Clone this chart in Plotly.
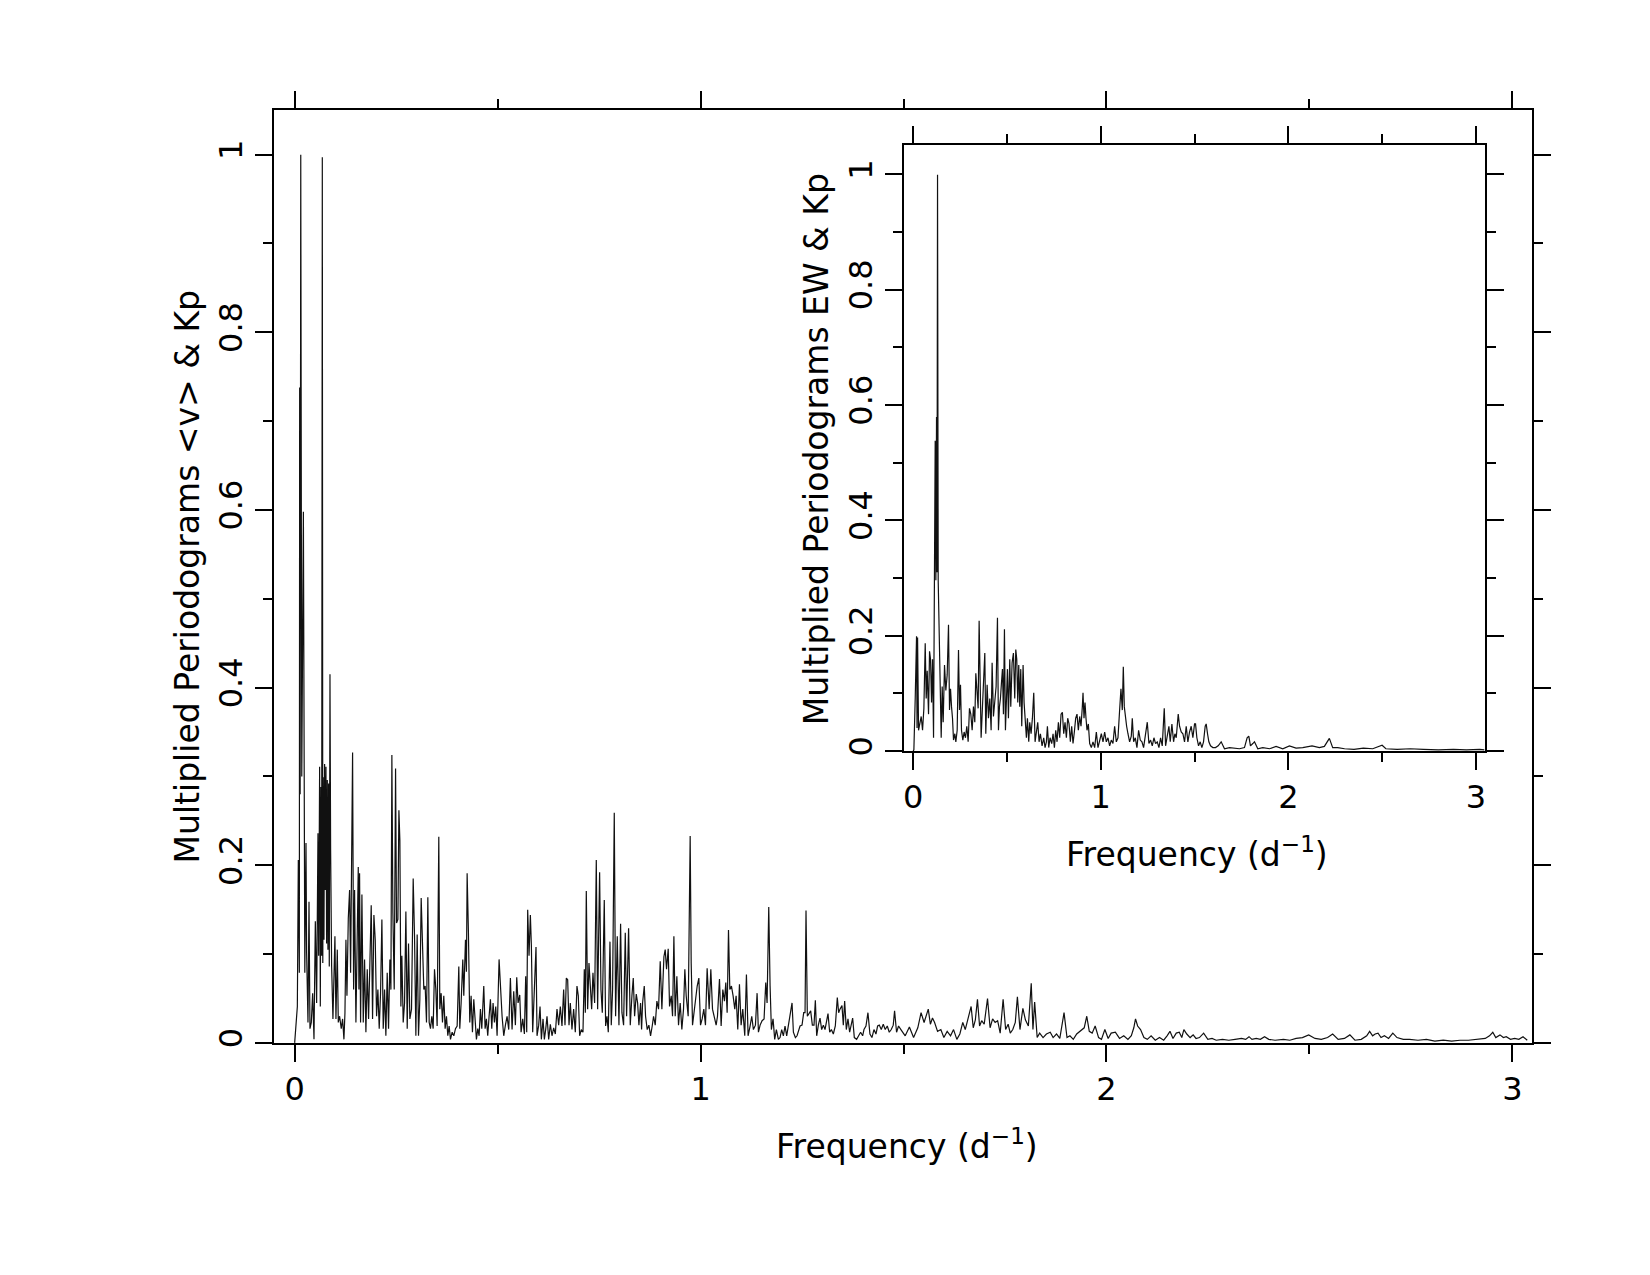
import plotly.graph_objects as go

# ---------------- data ----------------
main_freq = [
    0.0000, 0.0033, 0.0066, 0.0090, 0.0115, 0.0123, 0.0135, 0.0150, 0.0175, 0.0215,
    0.0235, 0.0250, 0.0279, 0.0295, 0.0328, 0.0353, 0.0377, 0.0410, 0.0443, 0.0476,
    0.0509, 0.0541, 0.0574, 0.0591, 0.0615, 0.0632, 0.0648, 0.0664, 0.0681, 0.0693,
    0.0705, 0.0722, 0.0738, 0.0755, 0.0771, 0.0787, 0.0804, 0.0820, 0.0837, 0.0853,
    0.0870, 0.0886, 0.0911, 0.0943, 0.0968, 0.0992, 0.1017, 0.1050, 0.1075, 0.1107,
    0.1148, 0.1181, 0.1214, 0.1239, 0.1263, 0.1288, 0.1321, 0.1353, 0.1378, 0.1394,
    0.1427, 0.1452, 0.1476, 0.1509, 0.1534, 0.1567, 0.1583, 0.1599, 0.1624, 0.1657,
    0.1690, 0.1722, 0.1755, 0.1788, 0.1821, 0.1854, 0.1886, 0.1919, 0.1952, 0.1985,
    0.2018, 0.2050, 0.2083, 0.2116, 0.2149, 0.2182, 0.2215, 0.2247, 0.2280, 0.2313,
    0.2346, 0.2371, 0.2395, 0.2420, 0.2453, 0.2486, 0.2510, 0.2543, 0.2568, 0.2592,
    0.2617, 0.2641, 0.2674, 0.2707, 0.2740, 0.2773, 0.2805, 0.2838, 0.2879, 0.2920,
    0.2953, 0.2986, 0.3018, 0.3051, 0.3084, 0.3117, 0.3150, 0.3182, 0.3215, 0.3248,
    0.3281, 0.3314, 0.3346, 0.3379, 0.3412, 0.3445, 0.3478, 0.3510, 0.3551, 0.3576,
    0.3609, 0.3642, 0.3674, 0.3707, 0.3740, 0.3773, 0.3806, 0.3839, 0.3880, 0.3921,
    0.3962, 0.4003, 0.4044, 0.4068, 0.4101, 0.4142, 0.4167, 0.4208, 0.4232, 0.4249,
    0.4281, 0.4314, 0.4347, 0.4380, 0.4413, 0.4446, 0.4478, 0.4511, 0.4544, 0.4577,
    0.4610, 0.4659, 0.4692, 0.4724, 0.4757, 0.4790, 0.4823, 0.4856, 0.4888, 0.4921,
    0.4954, 0.4987, 0.5036,
    0.5110, 0.5151, 0.5192, 0.5233, 0.5274, 0.5315, 0.5356, 0.5397, 0.5438, 0.5471,
    0.5504, 0.5545, 0.5578, 0.5619, 0.5660, 0.5692, 0.5717, 0.5741, 0.5774, 0.5807,
    0.5832, 0.5864, 0.5905, 0.5946, 0.5971, 0.6012, 0.6045, 0.6078, 0.6119, 0.6152,
    0.6184, 0.6217, 0.6258, 0.6299, 0.6340, 0.6381, 0.6422, 0.6463, 0.6504, 0.6545,
    0.6586, 0.6627, 0.6660, 0.6693, 0.6726, 0.6759, 0.6791, 0.6832, 0.6873, 0.6914,
    0.6955, 0.6988, 0.7021, 0.7062, 0.7103, 0.7136, 0.7161, 0.7185, 0.7218, 0.7251,
    0.7284, 0.7317, 0.7349, 0.7390, 0.7431, 0.7464, 0.7489, 0.7513, 0.7546, 0.7579,
    0.7628, 0.7661, 0.7694, 0.7727, 0.7768, 0.7800, 0.7833, 0.7874, 0.7907, 0.7948,
    0.7989, 0.8030, 0.8063, 0.8104, 0.8145, 0.8178, 0.8227, 0.8268, 0.8309, 0.8342,
    0.8375, 0.8416, 0.8449, 0.8481, 0.8522, 0.8547, 0.8572, 0.8613, 0.8645, 0.8686,
    0.8727, 0.8768, 0.8809, 0.8842, 0.8883, 0.8924, 0.8965, 0.9006, 0.9047, 0.9097,
    0.9129, 0.9162, 0.9203, 0.9236, 0.9277, 0.9310, 0.9343, 0.9375, 0.9416, 0.9457,
    0.9498, 0.9539, 0.9580, 0.9613, 0.9646, 0.9695, 0.9744, 0.9769, 0.9802, 0.9843,
    0.9876, 0.9917, 0.9958, 0.9999, 1.0039, 1.0080, 1.0121, 1.0162, 1.0212, 1.0253,
    1.0294, 1.0343, 1.0384, 1.0417, 1.0466, 1.0507, 1.0548, 1.0589, 1.0622, 1.0655,
    1.0688, 1.0721, 1.0761, 1.0802, 1.0843, 1.0876, 1.0917, 1.0958, 1.0999, 1.1040,
    1.1089, 1.1130, 1.1171, 1.1220, 1.1261, 1.1302, 1.1352, 1.1393, 1.1426, 1.1467,
    1.1516, 1.1565, 1.1606, 1.1639, 1.1680, 1.1713, 1.1745, 1.1786, 1.1827, 1.1868,
    1.1917, 1.1958, 1.1999, 1.2040, 1.2081, 1.2122, 1.2163, 1.2204, 1.2254, 1.2287,
    1.2336, 1.2377, 1.2418, 1.2451, 1.2500, 1.2541, 1.2574, 1.2598, 1.2631, 1.2672,
    1.2713, 1.2754, 1.2795, 1.2828, 1.2861, 1.2902, 1.2943, 1.2984, 1.3025, 1.3066,
    1.3107, 1.3140, 1.3181, 1.3222, 1.3271, 1.3320, 1.3369, 1.3402, 1.3435, 1.3484,
    1.3517, 1.3550, 1.3591, 1.3632, 1.3673, 1.3714, 1.3747, 1.3788, 1.3845, 1.3894,
    1.3943, 1.3993, 1.4026, 1.4075, 1.4124, 1.4173, 1.4222, 1.4272, 1.4321, 1.4362,
    1.4403, 1.4452, 1.4501, 1.4550, 1.4600, 1.4649, 1.4698, 1.4747, 1.4780, 1.4829,
    1.4878,
    1.4936, 1.5042, 1.5145, 1.5248, 1.5352, 1.5433, 1.5507, 1.5559, 1.5610, 1.5662,
    1.5714, 1.5766, 1.5839, 1.5920, 1.5994, 1.6076, 1.6159, 1.6233, 1.6314, 1.6388,
    1.6460, 1.6521, 1.6595, 1.6666, 1.6718, 1.6770, 1.6822, 1.6874, 1.6926, 1.6988,
    1.7070, 1.7133, 1.7195, 1.7257, 1.7319, 1.7382, 1.7454, 1.7516, 1.7578, 1.7630,
    1.7692, 1.7754, 1.7806, 1.7869, 1.7941, 1.8003, 1.8076, 1.8147, 1.8189, 1.8231,
    1.8293, 1.8354, 1.8438, 1.8521, 1.8615, 1.8686, 1.8770, 1.8851, 1.8955, 1.9028,
    1.9100, 1.9183, 1.9267, 1.9338, 1.9390, 1.9452, 1.9515, 1.9577, 1.9648, 1.9722,
    1.9806, 1.9877, 1.9961, 2.0042, 2.0116, 2.0219, 2.0322, 2.0426, 2.0529, 2.0613,
    2.0674, 2.0716, 2.0768, 2.0840, 2.0923, 2.1007, 2.1100, 2.1203, 2.1307, 2.1410,
    2.1493, 2.1565, 2.1639, 2.1720, 2.1794, 2.1856, 2.1907, 2.1979, 2.2062, 2.2136,
    2.2207, 2.2291, 2.2394, 2.2498, 2.2601, 2.2704, 2.2859, 2.3014, 2.3169, 2.3327,
    2.3430, 2.3512, 2.3585, 2.3689, 2.3792, 2.3895, 2.3999, 2.4154, 2.4361, 2.4518,
    2.4673, 2.4828, 2.4983, 2.5138, 2.5293, 2.5448, 2.5573, 2.5709, 2.5864, 2.5997,
    2.6122, 2.6277, 2.6412, 2.6484, 2.6558, 2.6620, 2.6691, 2.6765, 2.6848, 2.6951,
    2.7055, 2.7158, 2.7313, 2.7468, 2.7675, 2.7882, 2.8091, 2.8297, 2.8504, 2.8711,
    2.8918, 2.9073, 2.9230, 2.9333, 2.9437, 2.9518, 2.9592, 2.9695, 2.9779, 2.9850,
    2.9954, 3.0057, 3.0160, 3.0263, 3.0367,
]
main_power = [
    0.000, 0.019, 0.041, 0.206, 0.079, 0.738, 0.280, 1.000, 0.300, 0.598,
    0.150, 0.079, 0.225, 0.101, 0.023, 0.159, 0.016, 0.023, 0.056, 0.004,
    0.137, 0.045, 0.236, 0.098, 0.311, 0.041, 0.288, 0.098, 0.997, 0.090,
    0.299, 0.116, 0.314, 0.172, 0.311, 0.112, 0.296, 0.105, 0.292, 0.086,
    0.415, 0.217, 0.086, 0.027, 0.068, 0.120, 0.027, 0.105, 0.023, 0.030,
    0.016, 0.027, 0.004, 0.034, 0.116, 0.053, 0.140, 0.172, 0.079, 0.187,
    0.327, 0.060, 0.172, 0.023, 0.105, 0.198, 0.060, 0.191, 0.023, 0.167,
    0.023, 0.094, 0.012, 0.083, 0.027, 0.079, 0.155, 0.027, 0.144, 0.116,
    0.030, 0.060, 0.016, 0.056, 0.139, 0.016, 0.060, 0.008, 0.079, 0.016,
    0.094, 0.060, 0.324, 0.146, 0.060, 0.309, 0.135, 0.139, 0.262, 0.228,
    0.041, 0.098, 0.023, 0.045, 0.148, 0.016, 0.112, 0.027, 0.038, 0.185,
    0.120, 0.008, 0.122, 0.008, 0.049, 0.163, 0.116, 0.060, 0.064, 0.023,
    0.164, 0.023, 0.016, 0.030, 0.016, 0.083, 0.060, 0.019, 0.232, 0.038,
    0.056, 0.023, 0.053, 0.016, 0.030, 0.008, 0.019, 0.004, 0.012, 0.008,
    0.016, 0.019, 0.086, 0.016, 0.045, 0.094, 0.053, 0.116, 0.080, 0.191,
    0.124, 0.023, 0.053, 0.012, 0.049, 0.023, 0.004, 0.016, 0.008, 0.038,
    0.016, 0.064, 0.016, 0.027, 0.008, 0.030, 0.049, 0.016, 0.045, 0.023,
    0.041, 0.008, 0.094,
    0.030, 0.008, 0.020, 0.030, 0.015, 0.073, 0.015, 0.058, 0.020, 0.074,
    0.045, 0.054, 0.012, 0.027, 0.010, 0.075, 0.012, 0.150, 0.098, 0.144,
    0.109, 0.012, 0.060, 0.108, 0.008, 0.020, 0.041, 0.004, 0.027, 0.004,
    0.015, 0.030, 0.004, 0.021, 0.008, 0.017, 0.010, 0.038, 0.020, 0.041,
    0.019, 0.060, 0.020, 0.073, 0.071, 0.020, 0.045, 0.015, 0.038, 0.012,
    0.064, 0.053, 0.008, 0.015, 0.012, 0.083, 0.034, 0.171, 0.038, 0.090,
    0.064, 0.038, 0.079, 0.045, 0.206, 0.038, 0.120, 0.192, 0.060, 0.034,
    0.161, 0.019, 0.030, 0.012, 0.114, 0.020, 0.060, 0.259, 0.030, 0.120,
    0.020, 0.134, 0.034, 0.020, 0.124, 0.030, 0.129, 0.020, 0.053, 0.073,
    0.030, 0.055, 0.045, 0.020, 0.045, 0.015, 0.045, 0.064, 0.030, 0.015,
    0.020, 0.008, 0.019, 0.030, 0.020, 0.047, 0.038, 0.092, 0.038, 0.097,
    0.105, 0.083, 0.106, 0.041, 0.053, 0.030, 0.120, 0.030, 0.075, 0.020,
    0.045, 0.015, 0.038, 0.083, 0.053, 0.030, 0.233, 0.090, 0.020, 0.038,
    0.045, 0.064, 0.073, 0.020, 0.027, 0.038, 0.020, 0.084, 0.038, 0.083,
    0.038, 0.027, 0.020, 0.030, 0.072, 0.019, 0.060, 0.047, 0.068, 0.034,
    0.127, 0.060, 0.064, 0.053, 0.038, 0.053, 0.015, 0.066, 0.020, 0.038,
    0.008, 0.077, 0.008, 0.019, 0.030, 0.015, 0.020, 0.056, 0.012, 0.020,
    0.025, 0.027, 0.068, 0.045, 0.153, 0.064, 0.015, 0.027, 0.004, 0.015,
    0.004, 0.006, 0.015, 0.008, 0.019, 0.008, 0.020, 0.028, 0.045, 0.012,
    0.006, 0.008, 0.015, 0.019, 0.020, 0.034, 0.034, 0.149, 0.030, 0.034,
    0.036, 0.020, 0.020, 0.048, 0.008, 0.020, 0.028, 0.015, 0.020, 0.015,
    0.025, 0.033, 0.012, 0.015, 0.010, 0.019, 0.051, 0.034, 0.038, 0.042,
    0.020, 0.047, 0.015, 0.027, 0.012, 0.020, 0.028, 0.006, 0.004, 0.008,
    0.012, 0.008, 0.015, 0.019, 0.034, 0.010, 0.006, 0.015, 0.010, 0.019,
    0.020, 0.015, 0.021, 0.015, 0.019, 0.012, 0.015, 0.020, 0.036, 0.012,
    0.019,
    0.015, 0.008, 0.018, 0.006, 0.017, 0.034, 0.023, 0.030, 0.038, 0.021,
    0.028, 0.023, 0.013, 0.015, 0.006, 0.013, 0.008, 0.015, 0.004, 0.010,
    0.023, 0.015, 0.030, 0.041, 0.017, 0.026, 0.049, 0.019, 0.025, 0.021,
    0.050, 0.017, 0.027, 0.023, 0.025, 0.011, 0.049, 0.015, 0.021, 0.011,
    0.015, 0.023, 0.052, 0.015, 0.039, 0.026, 0.019, 0.067, 0.015, 0.046,
    0.006, 0.011, 0.006, 0.010, 0.012, 0.006, 0.010, 0.005, 0.034, 0.006,
    0.008, 0.004, 0.010, 0.013, 0.015, 0.017, 0.030, 0.013, 0.011, 0.019,
    0.006, 0.004, 0.015, 0.005, 0.011, 0.012, 0.005, 0.008, 0.004, 0.008,
    0.017, 0.027, 0.019, 0.015, 0.006, 0.004, 0.008, 0.003, 0.006, 0.003,
    0.008, 0.013, 0.005, 0.011, 0.012, 0.006, 0.015, 0.010, 0.006, 0.009,
    0.005, 0.006, 0.011, 0.004, 0.005, 0.003, 0.004, 0.003, 0.004, 0.005,
    0.004, 0.007, 0.004, 0.005, 0.004, 0.007, 0.004, 0.003, 0.004, 0.003,
    0.005, 0.006, 0.009, 0.005, 0.004, 0.006, 0.010, 0.004, 0.005, 0.009,
    0.003, 0.004, 0.008, 0.013, 0.008, 0.010, 0.011, 0.006, 0.008, 0.005,
    0.011, 0.006, 0.004, 0.004, 0.003, 0.004, 0.002, 0.003, 0.002, 0.003,
    0.003, 0.004, 0.005, 0.005, 0.008, 0.012, 0.006, 0.009, 0.006, 0.007,
    0.004, 0.005, 0.004, 0.007, 0.003,
]

inset_freq = [
    0.0000, 0.0037, 0.0108, 0.0179, 0.0206, 0.0233, 0.0286, 0.0357, 0.0428, 0.0499,
    0.0570, 0.0641, 0.0694, 0.0747, 0.0818, 0.0872, 0.0925, 0.0978, 0.1031, 0.1085,
    0.1138, 0.1173, 0.1209, 0.1244, 0.1270, 0.1298, 0.1333, 0.1386, 0.1439, 0.1493,
    0.1546, 0.1599, 0.1670, 0.1741, 0.1812, 0.1883, 0.1937, 0.1990, 0.2043, 0.2096,
    0.2150, 0.2220, 0.2274, 0.2345, 0.2416, 0.2469, 0.2522, 0.2576, 0.2646, 0.2717,
    0.2788, 0.2859, 0.2930, 0.3001, 0.3072, 0.3143, 0.3214, 0.3285, 0.3339, 0.3410,
    0.3463, 0.3516, 0.3569, 0.3622, 0.3694, 0.3765, 0.3818, 0.3871, 0.3942, 0.4013,
    0.4084, 0.4155, 0.4208, 0.4279, 0.4350, 0.4421, 0.4493, 0.4546, 0.4599, 0.4652,
    0.4705, 0.4759, 0.4812, 0.4865, 0.4918, 0.4972, 0.5025, 0.5078, 0.5149, 0.5202,
    0.5273, 0.5344, 0.5415, 0.5469, 0.5522, 0.5575, 0.5628, 0.5682, 0.5735, 0.5788,
    0.5859, 0.5912, 0.5965, 0.6036, 0.6090, 0.6161, 0.6214, 0.6285, 0.6356, 0.6427,
    0.6498, 0.6569, 0.6640, 0.6711, 0.6782, 0.6871, 0.6960, 0.7031, 0.7102, 0.7156,
    0.7226, 0.7297, 0.7386, 0.7457, 0.7528, 0.7599, 0.7670, 0.7741, 0.7812, 0.7883,
    0.7954, 0.8025, 0.8095, 0.8167, 0.8237, 0.8308, 0.8379, 0.8450, 0.8521, 0.8592,
    0.8663, 0.8734, 0.8805, 0.8876, 0.8947, 0.9018, 0.9054, 0.9107, 0.9160, 0.9213,
    0.9267, 0.9338, 0.9409, 0.9498, 0.9586, 0.9675, 0.9764, 0.9852, 0.9941, 1.0030,
    1.0119, 1.0208, 1.0296, 1.0385, 1.0474, 1.0563, 1.0651, 1.0740, 1.0829, 1.0918,
    1.1006, 1.1077, 1.1148, 1.1202, 1.1255, 1.1308, 1.1379, 1.1450, 1.1539, 1.1628,
    1.1681, 1.1752, 1.1841, 1.1929, 1.2018, 1.2107, 1.2196, 1.2284, 1.2373, 1.2480,
    1.2568, 1.2657, 1.2746, 1.2835, 1.2923, 1.3012, 1.3101, 1.3190, 1.3278, 1.3385,
    1.3456, 1.3545, 1.3633, 1.3704, 1.3793, 1.3882, 1.3953, 1.4024, 1.4130, 1.4201,
    1.4290, 1.4379, 1.4467, 1.4556, 1.4645, 1.4734, 1.4822, 1.4911, 1.5000, 1.5053,
    1.5124, 1.5213, 1.5302, 1.5390, 1.5479, 1.5568, 1.5621, 1.5692, 1.5763, 1.5852,
    1.5976, 1.6118, 1.6260, 1.6420, 1.6597, 1.6864, 1.7130, 1.7396, 1.7662, 1.7804,
    1.7893, 1.7982, 1.8106, 1.8195, 1.8372, 1.8639, 1.9004, 1.9348, 1.9703, 2.0058,
    2.0413, 2.0768, 2.1265, 2.1656, 2.1922, 2.2188, 2.2366, 2.2632, 2.3000, 2.3500,
    2.4000, 2.4500, 2.5000, 2.5200, 2.5800, 2.6500, 2.7200, 2.8000, 2.8800, 2.9500,
    3.0200, 3.0450,
]
inset_power = [
    0.000, 0.002, 0.091, 0.199, 0.040, 0.197, 0.036, 0.050, 0.060, 0.036,
    0.074, 0.187, 0.091, 0.139, 0.064, 0.173, 0.159, 0.084, 0.159, 0.023,
    0.327, 0.538, 0.296, 0.579, 0.310, 0.999, 0.296, 0.200, 0.112, 0.023,
    0.112, 0.050, 0.149, 0.105, 0.132, 0.219, 0.071, 0.108, 0.077, 0.057,
    0.019, 0.030, 0.016, 0.036, 0.175, 0.071, 0.115, 0.036, 0.019, 0.033,
    0.023, 0.043, 0.016, 0.074, 0.064, 0.036, 0.077, 0.050, 0.135, 0.091,
    0.074, 0.226, 0.071, 0.023, 0.077, 0.118, 0.170, 0.030, 0.115, 0.057,
    0.091, 0.036, 0.153, 0.060, 0.091, 0.112, 0.231, 0.036, 0.077, 0.091,
    0.118, 0.142, 0.064, 0.211, 0.036, 0.091, 0.142, 0.057, 0.159, 0.077,
    0.153, 0.170, 0.091, 0.176, 0.159, 0.084, 0.149, 0.077, 0.142, 0.043,
    0.149, 0.084, 0.050, 0.023, 0.057, 0.016, 0.050, 0.030, 0.057, 0.101,
    0.016, 0.036, 0.050, 0.016, 0.030, 0.009, 0.023, 0.006, 0.016, 0.043,
    0.006, 0.023, 0.013, 0.030, 0.006, 0.036, 0.016, 0.050, 0.023, 0.064,
    0.067, 0.030, 0.050, 0.023, 0.057, 0.047, 0.016, 0.043, 0.013, 0.033,
    0.057, 0.064, 0.036, 0.060, 0.043, 0.077, 0.101, 0.057, 0.084, 0.057,
    0.036, 0.047, 0.013, 0.006, 0.016, 0.006, 0.033, 0.006, 0.019, 0.030,
    0.016, 0.033, 0.016, 0.023, 0.009, 0.019, 0.013, 0.043, 0.016, 0.023,
    0.071, 0.108, 0.071, 0.146, 0.077, 0.057, 0.043, 0.030, 0.016, 0.026,
    0.057, 0.016, 0.023, 0.006, 0.036, 0.019, 0.016, 0.006, 0.023, 0.050,
    0.013, 0.019, 0.009, 0.023, 0.013, 0.016, 0.006, 0.023, 0.009, 0.074,
    0.009, 0.023, 0.043, 0.016, 0.047, 0.016, 0.030, 0.023, 0.064, 0.043,
    0.033, 0.030, 0.016, 0.043, 0.016, 0.033, 0.043, 0.023, 0.047, 0.047,
    0.023, 0.009, 0.016, 0.006, 0.016, 0.043, 0.047, 0.030, 0.016, 0.009,
    0.006, 0.006, 0.009, 0.016, 0.004, 0.006, 0.005, 0.004, 0.006, 0.023,
    0.026, 0.009, 0.013, 0.016, 0.004, 0.006, 0.004, 0.008, 0.004, 0.009,
    0.005, 0.006, 0.009, 0.006, 0.008, 0.022, 0.006, 0.006, 0.004, 0.003,
    0.005, 0.004, 0.010, 0.004, 0.003, 0.004, 0.003, 0.002, 0.003, 0.002,
    0.003, 0.002,
]

x_ticks = [0, 1, 2, 3]
y_ticks = [0, 0.2, 0.4, 0.6, 0.8, 1]

main_xtitle = "Frequency (d<sup>\u22121</sup>)"
main_ytitle = "Multiplied Periodograms &lt;v&gt; &amp; Kp"
inset_xtitle = "Frequency (d<sup>\u22121</sup>)"
inset_ytitle = "Multiplied Periodograms EW &amp; Kp"

# ---------------- figure ----------------
W, H = 1650, 1275
TICK_FONT = dict(family="DejaVu Sans, sans-serif", size=32, color="black")
TITLE_FONT = dict(family="DejaVu Sans, sans-serif", size=33, color="black")

fig = go.Figure()
fig.add_trace(go.Scatter(x=main_freq, y=main_power, mode="lines",
                         line=dict(color="#111111", width=1.2), xaxis="x", yaxis="y",
                         hoverinfo="skip"))
fig.add_trace(go.Scatter(x=inset_freq, y=inset_power, mode="lines",
                         line=dict(color="#111111", width=1.2), xaxis="x2", yaxis="y2",
                         hoverinfo="skip"))


def axis_style(**kw):
    d = dict(showline=True, linecolor="black", linewidth=2, mirror="ticks",
             ticks="outside", ticklen=17, tickwidth=2, tickcolor="black",
             showgrid=False, zeroline=False, tickfont=TICK_FONT, fixedrange=True)
    d.update(kw)
    return d


fig.update_layout(
    width=W, height=H,
    margin=dict(l=0, r=0, t=0, b=0),
    paper_bgcolor="white", plot_bgcolor="white",
    showlegend=False,
    xaxis=axis_style(domain=[273.5 / W, 1533.3 / W], range=[-0.0505, 3.0495], anchor="y",
                     tickmode="array", tickvals=x_ticks,
                     minor=dict(dtick=0.5, tick0=0, ticks="outside", ticklen=9,
                                tickwidth=2, tickcolor="black")),
    yaxis=axis_style(domain=[1 - 1047 / H, 1 - 110.7 / H], range=[0, 1.05], anchor="x",
                     tickmode="array", tickvals=y_ticks, tickangle=-90,
                     minor=dict(dtick=0.1, tick0=0, ticks="outside", ticklen=9,
                                tickwidth=2, tickcolor="black")),
    xaxis2=axis_style(domain=[904 / W, 1485.7 / W], range=[-0.0495, 3.048], anchor="y2",
                      tickmode="array", tickvals=x_ticks,
                      minor=dict(dtick=0.5, tick0=0, ticks="outside", ticklen=9,
                                 tickwidth=2, tickcolor="black")),
    yaxis2=axis_style(domain=[1 - 754 / H, 1 - 146 / H], range=[0, 1.05], anchor="x2",
                      tickmode="array", tickvals=y_ticks, tickangle=-90,
                      minor=dict(dtick=0.1, tick0=0, ticks="outside", ticklen=9,
                                 tickwidth=2, tickcolor="black")),
)

annos = [
    dict(text=main_xtitle, x=907 / W, y=1 - 1149 / H, textangle=0),
    dict(text=main_ytitle, x=187 / W, y=1 - 579 / H, textangle=-90),
    dict(text=inset_xtitle, x=1197 / W, y=1 - 856 / H, textangle=0),
    dict(text=inset_ytitle, x=816 / W, y=1 - 451 / H, textangle=-90),
]
for a in annos:
    fig.add_annotation(xref="paper", yref="paper", showarrow=False,
                       xanchor="center", yanchor="middle", font=TITLE_FONT, **a)

fig.write_html("out.html")
